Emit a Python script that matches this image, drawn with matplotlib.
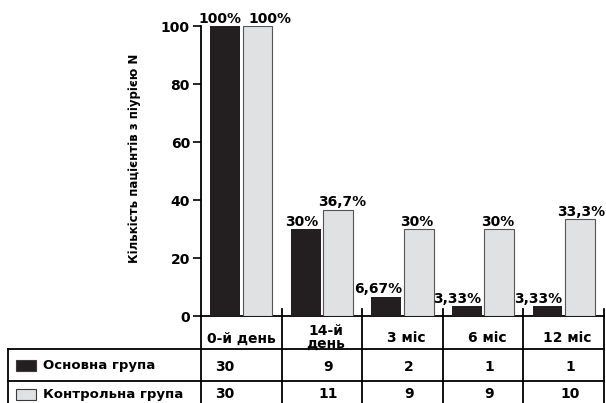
import matplotlib.pyplot as plt
from matplotlib.patches import Rectangle

plt.rcParams['font.family'] = ['DejaVu Sans']
plt.rcParams['font.weight'] = 'bold'

periods = ['0-й день', '14-й\nдень', '3 міс', '6 міс', '12 міс']
main_pct = [100, 30, 6.67, 3.33, 3.33]
ctrl_pct = [100, 36.7, 30, 30, 33.3]
main_n = [30, 9, 2, 1, 1]
ctrl_n = [30, 11, 9, 9, 10]
groups = ['Основна група', 'Контрольна група']

black = '#231f20'
grey = '#e0e1e3'
lw = 1.3

W, H = 606, 403
fig = plt.figure(figsize=(6.06, 4.03), dpi=100)
ax = fig.add_axes([201 / W, 87 / H, 403 / W, 290 / H])

x = range(len(periods))
off, bw = 0.2, 0.37
ax.bar([i - off for i in x], main_pct, bw, color=black, zorder=3)
ax.bar([i + off for i in x], ctrl_pct, bw, color=grey, edgecolor='#555555',
       linewidth=0.8, zorder=3)

def pct(v):
    return '{:g}'.format(v).replace('.', ',') + '%'

# nudges so neighbouring labels don't collide
main_dx = [-4, -3, -6, -7, -7]
ctrl_dx = [9, 3, -1, -1, 1]
for i in x:
    ax.annotate(pct(main_pct[i]), (i - off, main_pct[i]), xytext=(main_dx[i], 2.5),
                textcoords='offset points', ha='center', va='baseline', fontsize=10)
    ax.annotate(pct(ctrl_pct[i]), (i + off, ctrl_pct[i]), xytext=(ctrl_dx[i], 2.5),
                textcoords='offset points', ha='center', va='baseline', fontsize=10)

ax.set_xlim(-0.5, 4.5)
ax.set_ylim(0, 100)
ax.set_yticks([0, 20, 40, 60, 80, 100])
ax.set_xticks([])
ax.tick_params(axis='y', direction='out', length=6, width=1.2, labelsize=10, pad=2)
for s in ['top', 'right']:
    ax.spines[s].set_visible(False)
ax.spines['left'].set_linewidth(lw)
ax.spines['bottom'].set_linewidth(lw)
ax.set_ylabel('Кількість пацієнтів з піурією N', fontsize=8.5, fontweight='bold')
ax.yaxis.set_label_coords(-0.15, 0.545)

# small tick marks between periods above the axis
for b in [0.5, 1.5, 2.5, 3.5, 4.5]:
    ax.plot([b, b], [0, 2.5], color='black', lw=lw, clip_on=False, zorder=4)

# table under the chart
row_h = 32.7
tab = fig.add_axes([201 / W, 0, 403 / W, 87 / H])
tab.set_xlim(-0.5, 4.5)
tab.set_ylim(87 / row_h, 0)
tab.axis('off')
left = -0.5 - 193 / 80.6
bottom = 87 / row_h + 0.1
for yy in [1, 2]:
    tab.plot([left, 4.5], [yy, yy], color='black', lw=lw, clip_on=False)
tab.plot([left, left], [1, bottom], color='black', lw=lw, clip_on=False)
for b in [-0.5, 0.5, 1.5, 2.5, 3.5, 4.5]:
    tab.plot([b, b], [0, bottom], color='black', lw=lw, clip_on=False)

for i in x:
    hx = i if i == 0 else i + 0.05
    tab.text(hx, 0.66 if i else 0.7, periods[i], ha='center', va='center',
             fontsize=10, linespacing=0.85)
    nx = -0.32 if i == 0 else i + 0.08
    ha = 'left' if i == 0 else 'center'
    tab.text(nx, 1.55, str(main_n[i]), ha=ha, va='center', fontsize=10)
    tab.text(nx, 2.4, str(ctrl_n[i]), ha=ha, va='center', fontsize=10)

sw_x = left + 8 / 80.6
for j, (g, c) in enumerate(zip(groups, [black, grey])):
    yc = 1.52 + j * 0.88
    tab.add_patch(Rectangle((sw_x, yc - 0.17), 0.25, 0.34, facecolor=c,
                            edgecolor='#3a3a3a', lw=0.8, clip_on=False))
    tab.text(left + 35 / 80.6, yc, g, ha='left', va='center', fontsize=9.5)

fig.savefig('out.png', dpi=100)
